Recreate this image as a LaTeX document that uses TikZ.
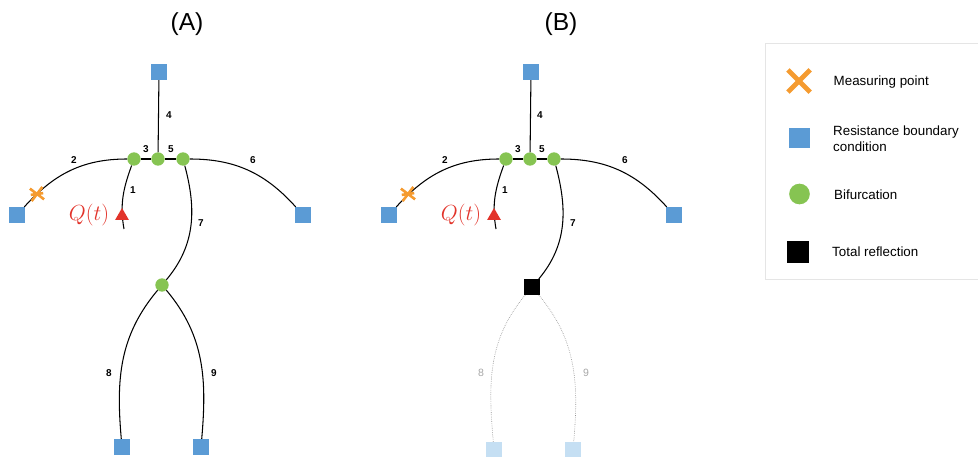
\documentclass[tikz,border=0pt]{standalone}
\usepackage{fontspec}
\setmainfont{Liberation Sans}
\usetikzlibrary{shapes.misc,shapes.geometric}
\definecolor{rbcblue}{HTML}{5B9BD5}
\definecolor{rbcfaint}{HTML}{C5DFF3}
\definecolor{bifgreen}{HTML}{86C452}
\definecolor{measorange}{HTML}{F59B30}
\definecolor{inflowred}{HTML}{E2332A}
\tikzset{
  rbc/.style={rectangle,fill=rbcblue,inner sep=0pt,minimum size=0.47cm},
  rbcoff/.style={rbc,fill=rbcfaint},
  bif/.style={circle,fill=bifgreen,inner sep=0pt,minimum size=0.4cm},
  reflect/.style={rectangle,fill=black,inner sep=0pt,minimum size=0.47cm},
  inflow/.style={regular polygon,regular polygon sides=3,fill=inflowred,inner sep=0pt,minimum size=0.48cm},
  meas/.style={cross out,draw=measorange,line width=2.2pt,inner sep=0pt,minimum size=0.3cm},
  vessel/.style={line width=0.9pt},
  vesseloff/.style={gray!85,densely dotted,line width=0.55pt},
  num/.style={font=\fontsize{8.5}{9}\selectfont\bfseries,inner sep=0pt},
  numoff/.style={font=\fontsize{9}{10}\selectfont,text=gray!70,inner sep=0pt},
  qlab/.style={text=inflowred,font=\fontsize{17.28}{20}\selectfont,inner sep=0pt,scale=1.08},
  legtext/.style={font=\fontsize{11.4}{13.6}\selectfont,align=left,anchor=west,inner sep=0pt}
}
\begin{document}
\begin{tikzpicture}[x=0.03cm,y=-0.03cm]
\useasboundingbox (0,0) rectangle (978,457);

% panel A
\node[font=\fontsize{21}{24}\selectfont] (titleA) at (187,24) {(A)};
\node[rbc] (topA) at (159,72) {};
\node[rbc] (leftA) at (17,215) {};
\node[rbc] (rightA) at (303,215) {};
\node[rbc] (footlA) at (122,447) {};
\node[rbc] (footrA) at (201,447) {};
\node[bif] (b1A) at (134,159) {};
\node[bif] (b2A) at (158,159) {};
\node[bif] (b3A) at (183,159) {};
\node[bif] (b4A) at (162,285) {};
\coordinate (inA) at (124,229);

\draw[vessel] (inA) to[out=100,in=250] (b1A);
\draw[vessel] (b1A) to[out=180,in=48] (leftA);
\draw[vessel] (b1A) -- (b2A);
\draw[vessel] (topA) -- (b2A);
\draw[vessel] (b2A) -- (b3A);
\draw[vessel] (b3A) to[out=0,in=132] (rightA);
\draw[vessel] (b3A) to[out=-75,in=50] (b4A);
\draw[vessel] (b4A) to[out=230,in=95] (footlA);
\draw[vessel] (b4A) to[out=-50,in=85] (footrA);

\node[inflow] (qA) at (122,216) {};
\node[qlab] (qlabA) at (89,215) {$Q(t)$};
\node[meas,rotate=8] (mA) at (37,194) {};
\draw[measorange,line width=2.2pt] (mA.west) -- (mA.east);

\node[num] (n1A) at (133,190) {1};
\node[num] (n2A) at (74,160) {2};
\node[num] (n3A) at (146,149) {3};
\node[num] (n4A) at (169,115) {4};
\node[num] (n5A) at (171,149) {5};
\node[num] (n6A) at (253,160) {6};
\node[num] (n7A) at (201,223) {7};
\node[num] (n8A) at (109,373) {8};
\node[num] (n9A) at (214,373) {9};

% panel B
\node[font=\fontsize{21}{24}\selectfont] (titleB) at (561,24) {(B)};
\node[rbc] (topB) at (531,72) {};
\node[rbc] (leftB) at (389,215) {};
\node[rbc] (rightB) at (674,215) {};
\node[rbcoff] (footlB) at (494,450) {};
\node[rbcoff] (footrB) at (573,450) {};
\node[bif] (b1B) at (506,159) {};
\node[bif] (b2B) at (530,159) {};
\node[bif] (b3B) at (554,159) {};
\node[reflect] (b4B) at (532,287) {};
\coordinate (inB) at (496,229);

\draw[vessel] (inB) to[out=100,in=250] (b1B);
\draw[vessel] (b1B) to[out=180,in=48] (leftB);
\draw[vessel] (b1B) -- (b2B);
\draw[vessel] (topB) -- (b2B);
\draw[vessel] (b2B) -- (b3B);
\draw[vessel] (b3B) to[out=0,in=132] (rightB);
\draw[vessel] (b3B) to[out=-75,in=50] (b4B);
\draw[vesseloff] (b4B) to[out=230,in=95] (footlB);
\draw[vesseloff] (b4B) to[out=-50,in=85] (footrB);

\node[inflow] (qB) at (494,216) {};
\node[qlab] (qlabB) at (461,215) {$Q(t)$};
\node[meas,rotate=8] (mB) at (408,194) {};
\draw[measorange,line width=2.2pt] (mB.west) -- (mB.east);

\node[num] (n1B) at (505,190) {1};
\node[num] (n2B) at (445,160) {2};
\node[num] (n3B) at (518,149) {3};
\node[num] (n4B) at (540,115) {4};
\node[num] (n5B) at (542,149) {5};
\node[num] (n6B) at (625,160) {6};
\node[num] (n7B) at (573,223) {7};
\node[numoff] (n8B) at (481,373) {8};
\node[numoff] (n9B) at (586,373) {9};

% legend
\draw[gray!20,line width=0.5pt] (765,43) -- (978,43);
\draw[gray!20,line width=0.5pt] (765,43) -- (765,279);
\draw[gray!20,line width=0.5pt] (765,279) -- (978,279);
\node[cross out,draw=measorange,line width=4.2pt,inner sep=0pt,minimum size=0.52cm] (legM) at (799,81) {};
\node[rbc,minimum size=0.62cm] (legR) at (799.5,138) {};
\node[bif,minimum size=0.62cm] (legB) at (799.5,194) {};
\node[reflect,minimum size=0.66cm] (legT) at (798,252) {};
\node[legtext] (txtM) at (833.5,82) {Measuring point};
\node[legtext] (txtR) at (833,139) {Resistance boundary\\condition};
\node[legtext] (txtB) at (834,195) {Bifurcation};
\node[legtext] (txtT) at (832,252) {Total reflection};
\end{tikzpicture}
\end{document}
